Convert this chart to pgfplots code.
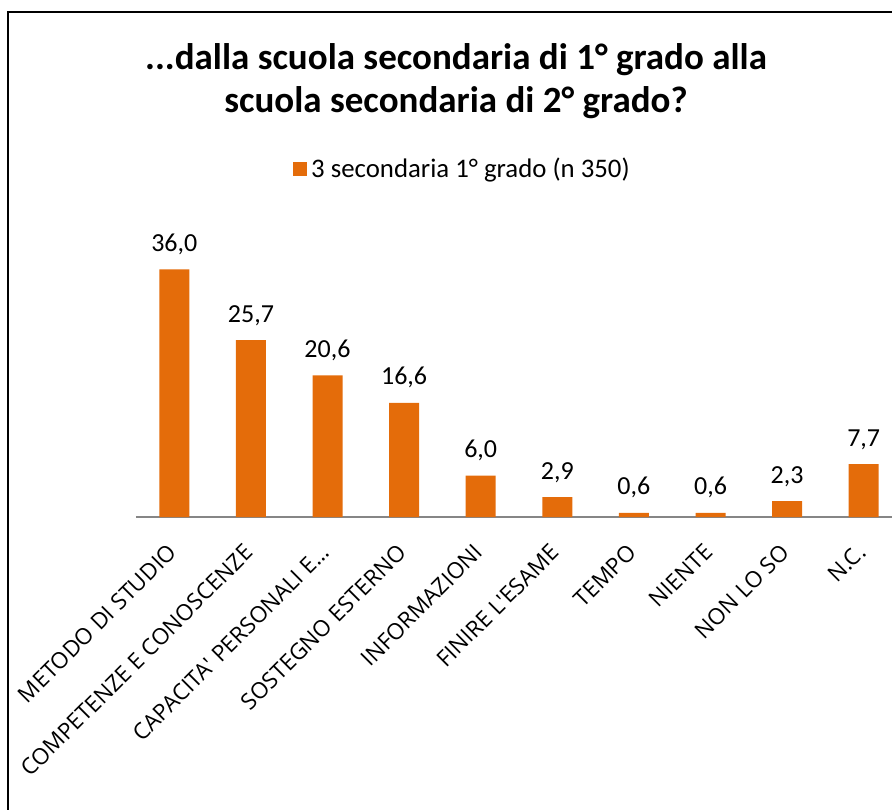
\documentclass[border=0pt]{standalone}
\usepackage{pgfplots}
\pgfplotsset{compat=1.18}
\usepackage{fontspec}
\setmainfont{Carlito}
\newfontfamily\tickfont{Open Sans}
\definecolor{barorange}{RGB}{228,108,10}
\definecolor{axisgray}{RGB}{134,134,134}
\begin{document}
\begin{tikzpicture}[x=1pt,y=1pt]
\path[use as bounding box] (0,0) rectangle (892,-809);
\draw[black, line width=2pt] (8,-812) -- (8,-12) -- (900,-12);
\node[anchor=base, font=\fontsize{37}{42}\selectfont\bfseries] at (456,-69) {...dalla scuola secondaria di 1° grado alla};
\node[anchor=base, font=\fontsize{37}{42}\selectfont\bfseries] at (456,-112) {scuola secondaria di 2° grado?};
\begin{axis}[
  at={(136pt,-517pt)}, anchor=south west,
  scale only axis,
  width=766pt, height=261.4pt,
  xmin=-0.5, xmax=9.5, ymin=0, ymax=38,
  axis x line*=bottom, hide y axis,
  x axis line style={-, draw=axisgray, line width=1.5pt},
  xtick=data,
  xtick style={draw=none},
  xticklabels={METODO DI STUDIO,COMPETENZE E CONOSCENZE,{CAPACITA\textquotesingle{} PERSONALI E.{}.{}.},SOSTEGNO ESTERNO,INFORMAZIONI,FINIRE L\textquotesingle ESAME,TEMPO,NIENTE,NON LO SO,N.C.},
  xticklabel style={rotate=45, anchor=north east, inner sep=0pt, xshift=-20.5pt, yshift=-9.2pt, font=\tickfont\fontsize{22.5}{27}\selectfont},
  ybar, bar width=30pt,
  nodes near coords={\pgfmathprintnumber[fixed,fixed zerofill,precision=1,use comma,assume math mode=true]{\pgfplotspointmeta}},
  nodes near coords style={anchor=base, inner sep=0pt, yshift=18pt, font=\fontsize{26}{30}\selectfont},
  legend style={draw=none, fill=none, inner sep=0pt, at={(axis description cs:0.205,1.333)}, anchor=west, font=\fontsize{26.8}{30}\selectfont, /tikz/every even column/.append style={column sep=0pt}},
  legend image code/.code={\fill[barorange] (0pt,-7pt) rectangle (14pt,7pt);},
  legend cell align=left,
  clip=false,
]
\addplot[fill=barorange, draw=none] coordinates {(0,36.0) (1,25.7) (2,20.6) (3,16.6) (4,6.0) (5,2.9) (6,0.6) (7,0.6) (8,2.3) (9,7.7)};
\addlegendentry{\hspace{2pt}3 secondaria 1° grado (n 350)}
\end{axis}
\end{tikzpicture}
\end{document}
